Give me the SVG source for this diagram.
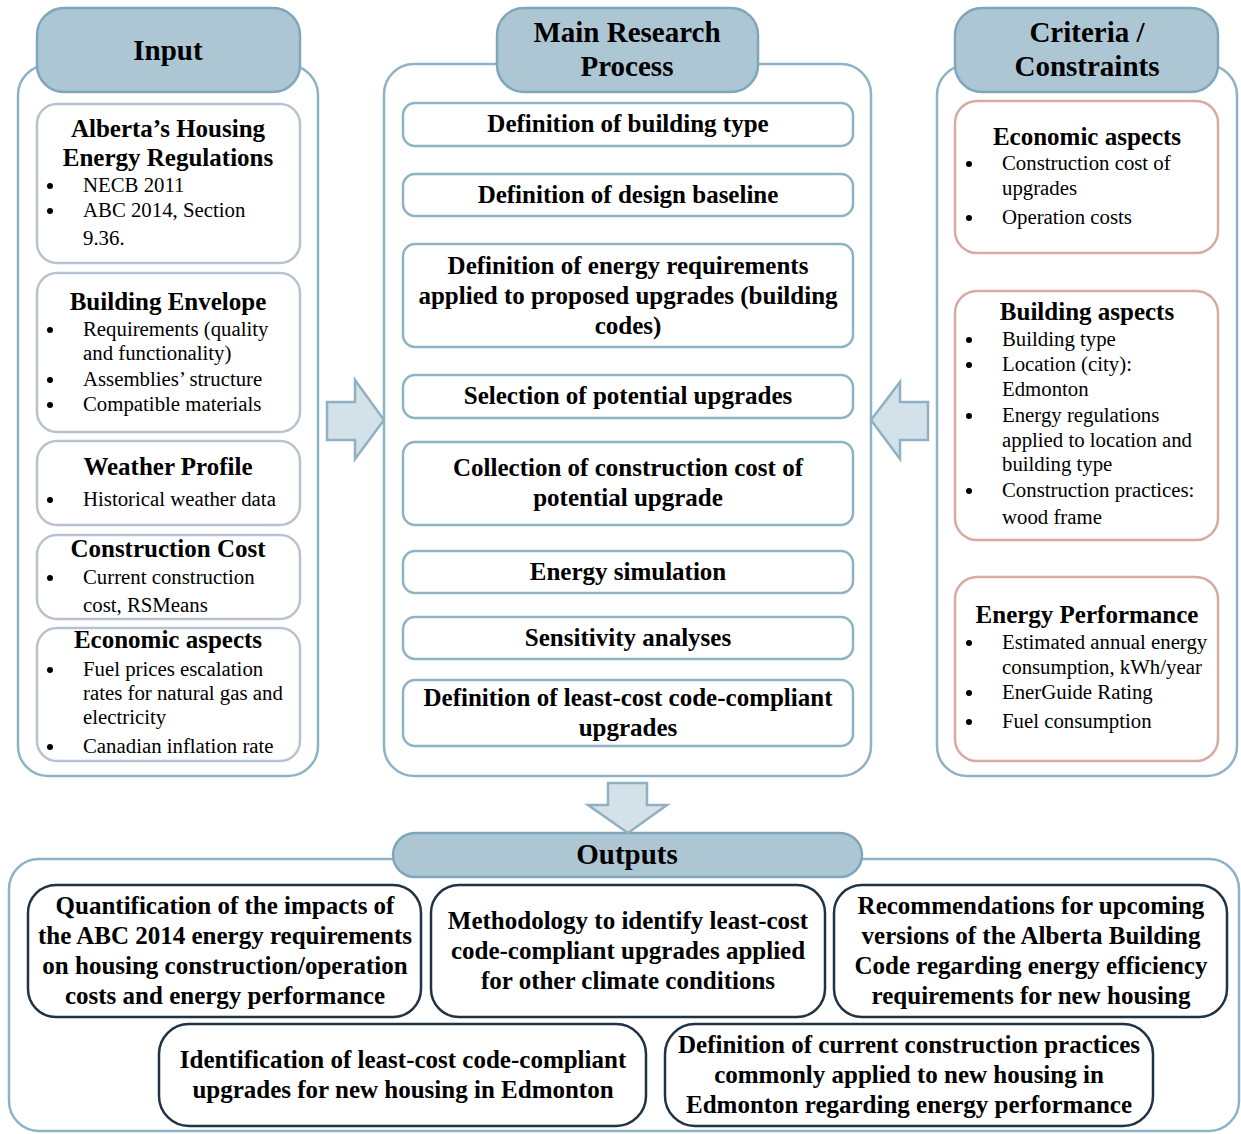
<svg xmlns="http://www.w3.org/2000/svg" width="1241" height="1134" viewBox="0 0 1241 1134">
  <style>
    text { font-family: "Liberation Serif", "Times New Roman", serif; fill: #000; }
    .hdr-t { font-size: 29px; font-weight: bold; text-anchor: middle; }
    .ttl { font-size: 25px; font-weight: bold; text-anchor: middle; }
    .bul { font-size: 20.8px; }
    .frame { fill: #fff; stroke: #8fb2c5; stroke-width: 2.5; }
    .hdr { fill: #adc6d3; stroke: #7fa6bb; stroke-width: 2.5; }
    .in-box { fill: #fff; stroke: #b9c3cf; stroke-width: 2.5; }
    .pr-box { fill: #fff; stroke: #8fb2c5; stroke-width: 2.5; }
    .cr-box { fill: #fff; stroke: #d6aba2; stroke-width: 2.5; }
    .out-box { fill: #fff; stroke: #1f3345; stroke-width: 2.5; }
    .arrow { fill: #d3e1e8; stroke: #8fb1c3; stroke-width: 2.5; stroke-linejoin: miter; }
    .dot { fill: #000; }
  </style>

  <!-- Column frames -->
  <g id="frames">
    <rect class="frame" x="18" y="65" width="300" height="711" rx="30"/>
    <rect class="frame" x="384" y="64" width="487" height="712" rx="30"/>
    <rect class="frame" x="937" y="65" width="300" height="711" rx="30"/>
    <rect class="frame" x="9" y="859" width="1230" height="272" rx="30"/>
  </g>

  <!-- Column headers -->
  <g id="header-input">
    <rect class="hdr" x="37" y="8" width="263" height="84" rx="27"/>
    <text class="hdr-t" x="168" y="60">Input</text>
  </g>
  <g id="header-process">
    <rect class="hdr" x="497" y="8" width="261" height="84" rx="27"/>
    <text class="hdr-t" x="627" y="42">Main Research</text>
    <text class="hdr-t" x="627" y="76">Process</text>
  </g>
  <g id="header-criteria">
    <rect class="hdr" x="955" y="8" width="263" height="84" rx="27"/>
    <text class="hdr-t" x="1087" y="42">Criteria /</text>
    <text class="hdr-t" x="1087" y="76">Constraints</text>
  </g>
  <g id="header-outputs">
    <rect class="hdr" x="393" y="833" width="469" height="44" rx="22"/>
    <text class="hdr-t" x="627" y="864">Outputs</text>
  </g>

  <!-- Input items -->
  <g id="in-regulations">
    <rect class="in-box" x="37" y="104" width="263" height="159" rx="20"/>
    <text class="ttl" x="168" y="137">Alberta’s Housing</text>
    <text class="ttl" x="168" y="166">Energy Regulations</text>
    <circle class="dot" cx="50" cy="186" r="3"/>
    <text class="bul" x="83" y="192">NECB 2011</text>
    <circle class="dot" cx="50" cy="211" r="3"/>
    <text class="bul" x="83" y="217">ABC 2014, Section</text>
    <text class="bul" x="83" y="245">9.36.</text>
  </g>
  <g id="in-envelope">
    <rect class="in-box" x="37" y="273" width="263" height="159" rx="20"/>
    <text class="ttl" x="168" y="310">Building Envelope</text>
    <circle class="dot" cx="50" cy="330" r="3"/>
    <text class="bul" x="83" y="336">Requirements (quality</text>
    <text class="bul" x="83" y="360">and functionality)</text>
    <circle class="dot" cx="50" cy="380" r="3"/>
    <text class="bul" x="83" y="386">Assemblies’ structure</text>
    <circle class="dot" cx="50" cy="405" r="3"/>
    <text class="bul" x="83" y="411">Compatible materials</text>
  </g>
  <g id="in-weather">
    <rect class="in-box" x="37" y="441" width="263" height="84" rx="20"/>
    <text class="ttl" x="168" y="475">Weather Profile</text>
    <circle class="dot" cx="50" cy="500" r="3"/>
    <text class="bul" x="83" y="506">Historical weather data</text>
  </g>
  <g id="in-cost">
    <rect class="in-box" x="37" y="535" width="263" height="84" rx="20"/>
    <text class="ttl" x="168" y="557">Construction Cost</text>
    <circle class="dot" cx="50" cy="578" r="3"/>
    <text class="bul" x="83" y="584">Current construction</text>
    <text class="bul" x="83" y="612">cost, RSMeans</text>
  </g>
  <g id="in-economic">
    <rect class="in-box" x="37" y="628" width="263" height="133" rx="20"/>
    <text class="ttl" x="168" y="648">Economic aspects</text>
    <circle class="dot" cx="50" cy="670" r="3"/>
    <text class="bul" x="83" y="676">Fuel prices escalation</text>
    <text class="bul" x="83" y="700">rates for natural gas and</text>
    <text class="bul" x="83" y="724">electricity</text>
    <circle class="dot" cx="50" cy="747" r="3"/>
    <text class="bul" x="83" y="753">Canadian inflation rate</text>
  </g>

  <!-- Process steps -->
  <g id="pr-building-type">
    <rect class="pr-box" x="403" y="103" width="450" height="43" rx="12"/>
    <text class="ttl" x="628" y="132">Definition of building type</text>
  </g>
  <g id="pr-baseline">
    <rect class="pr-box" x="403" y="174" width="450" height="42" rx="12"/>
    <text class="ttl" x="628" y="203">Definition of design baseline</text>
  </g>
  <g id="pr-requirements">
    <rect class="pr-box" x="403" y="244" width="450" height="103" rx="12"/>
    <text class="ttl" x="628" y="274">Definition of energy requirements</text>
    <text class="ttl" x="628" y="304">applied to proposed upgrades (building</text>
    <text class="ttl" x="628" y="334">codes)</text>
  </g>
  <g id="pr-selection">
    <rect class="pr-box" x="403" y="375" width="450" height="43" rx="12"/>
    <text class="ttl" x="628" y="404">Selection of potential upgrades</text>
  </g>
  <g id="pr-collection">
    <rect class="pr-box" x="403" y="442" width="450" height="83" rx="12"/>
    <text class="ttl" x="628" y="476">Collection of construction cost of</text>
    <text class="ttl" x="628" y="506">potential upgrade</text>
  </g>
  <g id="pr-simulation">
    <rect class="pr-box" x="403" y="551" width="450" height="42" rx="12"/>
    <text class="ttl" x="628" y="580">Energy simulation</text>
  </g>
  <g id="pr-sensitivity">
    <rect class="pr-box" x="403" y="617" width="450" height="42" rx="12"/>
    <text class="ttl" x="628" y="646">Sensitivity analyses</text>
  </g>
  <g id="pr-least-cost">
    <rect class="pr-box" x="403" y="680" width="450" height="66" rx="12"/>
    <text class="ttl" x="628" y="706">Definition of least-cost code-compliant</text>
    <text class="ttl" x="628" y="736">upgrades</text>
  </g>

  <!-- Criteria / constraints -->
  <g id="cr-economic">
    <rect class="cr-box" x="955" y="101" width="263" height="152" rx="22"/>
    <text class="ttl" x="1087" y="145">Economic aspects</text>
    <circle class="dot" cx="969" cy="164" r="3"/>
    <text class="bul" x="1002" y="170">Construction cost of</text>
    <text class="bul" x="1002" y="195">upgrades</text>
    <circle class="dot" cx="969" cy="218" r="3"/>
    <text class="bul" x="1002" y="224">Operation costs</text>
  </g>
  <g id="cr-building">
    <rect class="cr-box" x="955" y="291" width="263" height="249" rx="22"/>
    <text class="ttl" x="1087" y="320">Building aspects</text>
    <circle class="dot" cx="969" cy="340" r="3"/>
    <text class="bul" x="1002" y="346">Building type</text>
    <circle class="dot" cx="969" cy="365" r="3"/>
    <text class="bul" x="1002" y="371">Location (city):</text>
    <text class="bul" x="1002" y="396">Edmonton</text>
    <circle class="dot" cx="969" cy="416" r="3"/>
    <text class="bul" x="1002" y="422">Energy regulations</text>
    <text class="bul" x="1002" y="447">applied to location and</text>
    <text class="bul" x="1002" y="471">building type</text>
    <circle class="dot" cx="969" cy="491" r="3"/>
    <text class="bul" x="1002" y="497">Construction practices:</text>
    <text class="bul" x="1002" y="524">wood frame</text>
  </g>
  <g id="cr-performance">
    <rect class="cr-box" x="955" y="577" width="263" height="184" rx="22"/>
    <text class="ttl" x="1087" y="623">Energy Performance</text>
    <circle class="dot" cx="969" cy="643" r="3"/>
    <text class="bul" x="1002" y="649">Estimated annual energy</text>
    <text class="bul" x="1002" y="674">consumption, kWh/year</text>
    <circle class="dot" cx="969" cy="693" r="3"/>
    <text class="bul" x="1002" y="699">EnerGuide Rating</text>
    <circle class="dot" cx="969" cy="722" r="3"/>
    <text class="bul" x="1002" y="728">Fuel consumption</text>
  </g>

  <!-- Outputs -->
  <g id="out-quantification">
    <rect class="out-box" x="28" y="885" width="393" height="132" rx="28"/>
    <text class="ttl" x="225" y="914">Quantification of the impacts of</text>
    <text class="ttl" x="225" y="944">the ABC 2014 energy requirements</text>
    <text class="ttl" x="225" y="974">on housing construction/operation</text>
    <text class="ttl" x="225" y="1004">costs and energy performance</text>
  </g>
  <g id="out-methodology">
    <rect class="out-box" x="431" y="885" width="394" height="132" rx="28"/>
    <text class="ttl" x="628" y="929">Methodology to identify least-cost</text>
    <text class="ttl" x="628" y="959">code-compliant upgrades applied</text>
    <text class="ttl" x="628" y="989">for other climate conditions</text>
  </g>
  <g id="out-recommendations">
    <rect class="out-box" x="834" y="885" width="393" height="132" rx="28"/>
    <text class="ttl" x="1031" y="914">Recommendations for upcoming</text>
    <text class="ttl" x="1031" y="944">versions of the Alberta Building</text>
    <text class="ttl" x="1031" y="974">Code regarding energy efficiency</text>
    <text class="ttl" x="1031" y="1004">requirements for new housing</text>
  </g>
  <g id="out-identification">
    <rect class="out-box" x="159" y="1024" width="487" height="102" rx="30"/>
    <text class="ttl" x="403" y="1068">Identification of least-cost code-compliant</text>
    <text class="ttl" x="403" y="1098">upgrades for new housing in Edmonton</text>
  </g>
  <g id="out-practices">
    <rect class="out-box" x="665" y="1024" width="488" height="102" rx="30"/>
    <text class="ttl" x="909" y="1053">Definition of current construction practices</text>
    <text class="ttl" x="909" y="1083">commonly applied to new housing in</text>
    <text class="ttl" x="909" y="1113">Edmonton regarding energy performance</text>
  </g>

  <!-- Block arrows between columns -->
  <g id="connectors">
    <polygon class="arrow" points="327,402 355,402 355,380 384,420 355,459 355,440 327,440"/>
    <polygon class="arrow" points="928,402 900,402 900,382 871,420 900,459 900,440 928,440"/>
    <polygon class="arrow" points="608,783 647,783 647,805 667,805 628,833 588,805 608,805"/>
  </g>
</svg>
